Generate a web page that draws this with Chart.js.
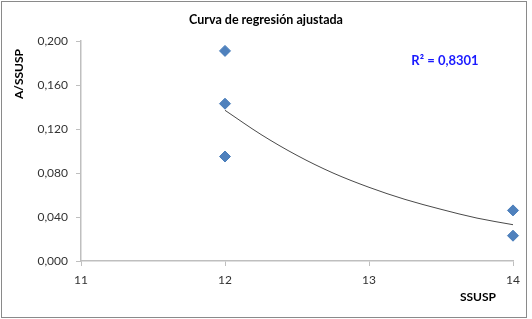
<!DOCTYPE html>
<html>
<head>
<meta charset="utf-8">
<script src="https://cdn.jsdelivr.net/npm/chart.js@4/dist/chart.umd.min.js"></script>
<style>
html,body{margin:0;padding:0;background:#fff;}
canvas{display:block;}
</style>
</head>
<body>
<canvas id="c" width="532" height="319"></canvas>
<script>
// Data
const chartTitle = 'Curva de regresión ajustada';
const xAxisTitle = 'SSUSP';
const yAxisTitle = 'A/SSUSP';
const r2Label = 'R² = 0,8301';

const pointX = [12, 12, 12, 14, 14];
const pointY = [0.191, 0.143, 0.095, 0.046, 0.023];

// Trend line
const trendX = [12, 12.25, 12.5, 12.75, 13, 13.25, 13.5, 13.75, 14];
const trendY = [0.137, 0.115, 0.096, 0.080, 0.067, 0.056, 0.047, 0.039, 0.033];

const xTicks = [11, 12, 13, 14];
const yTicks = [0, 0.04, 0.08, 0.12, 0.16, 0.2];

const FONT = 'Lato, "Open Sans", "Liberation Sans", sans-serif';

const points = pointX.map((x, i) => ({x: x, y: pointY[i]}));
const trend = trendX.map((x, i) => ({x: x, y: trendY[i]}));

const decor = {
  id: 'decor',
  beforeDraw(chart) {
    const ctx = chart.ctx;
    ctx.save();
    ctx.fillStyle = '#ffffff';
    ctx.fillRect(0, 0, chart.width, chart.height);
    ctx.strokeStyle = '#8a8a8a';
    ctx.lineWidth = 1;
    ctx.strokeRect(1.5, 1.5, 525, 316);
    ctx.restore();
  },
  afterDraw(chart) {
    const ctx = chart.ctx;
    const a = chart.chartArea;
    ctx.save();
    ctx.fillStyle = '#000000';
    ctx.textAlign = 'center';
    ctx.textBaseline = 'middle';
    ctx.font = 'bold 12.5px ' + FONT;
    ctx.fillText(chartTitle, chart.width / 2, 20);
    ctx.font = 'bold 12px ' + FONT;
    ctx.fillText(xAxisTitle, a.right - 35, 297);
    ctx.save();
    ctx.translate(19, a.top + 33);
    ctx.rotate(-Math.PI / 2);
    ctx.fillText(yAxisTitle, 0, 0);
    ctx.restore();
    ctx.fillStyle = '#1a1aff';
    ctx.font = 'bold 13px ' + FONT;
    ctx.fillText(r2Label, 445, 61);
    ctx.restore();
  }
};

new Chart(document.getElementById('c'), {
  type: 'scatter',
  data: {
    datasets: [
      {
        label: 'Datos',
        data: points,
        pointStyle: 'rectRot',
        pointRadius: 5.5,
        pointHoverRadius: 5.5,
        backgroundColor: '#4f81bd',
        borderColor: '#4a7ebb',
        borderWidth: 1,
        showLine: false,
        clip: false
      },
      {
        label: 'Tendencia',
        data: trend,
        showLine: true,
        pointRadius: 0,
        borderColor: '#4a4a4a',
        borderWidth: 1,
        cubicInterpolationMode: 'monotone',
        fill: false
      }
    ]
  },
  options: {
    responsive: false,
    animation: false,
    events: [],
    layout: {padding: {left: 0, right: 19, top: 41, bottom: 0}},
    plugins: {
      legend: {display: false},
      title: {display: false},
      tooltip: {enabled: false}
    },
    scales: {
      x: {
        type: 'linear',
        min: 11,
        max: 14,
        afterBuildTicks(s) { s.ticks = xTicks.map(v => ({value: v})); },
        afterFit(s) { s.height = 58; },
        ticks: {
          color: '#333333',
          font: {family: FONT, size: 12},
          padding: 7,
          maxRotation: 0,
          callback: v => String(v)
        },
        grid: {
          drawOnChartArea: false,
          drawTicks: true,
          tickLength: 5,
          color: '#bfbfbf',
          lineWidth: 1
        },
        border: {color: '#bfbfbf', width: 1.5}
      },
      y: {
        type: 'linear',
        min: 0,
        max: 0.2,
        afterBuildTicks(s) { s.ticks = yTicks.map(v => ({value: v})); },
        afterFit(s) { s.width = 81; },
        ticks: {
          color: '#333333',
          font: {family: FONT, size: 12},
          padding: 8,
          callback: v => v.toFixed(3).replace('.', ',')
        },
        grid: {
          drawOnChartArea: false,
          drawTicks: true,
          tickLength: 5,
          color: '#bfbfbf',
          lineWidth: 1
        },
        border: {color: '#bfbfbf', width: 1.5}
      }
    }
  },
  plugins: [decor]
});
</script>
</body>
</html>
